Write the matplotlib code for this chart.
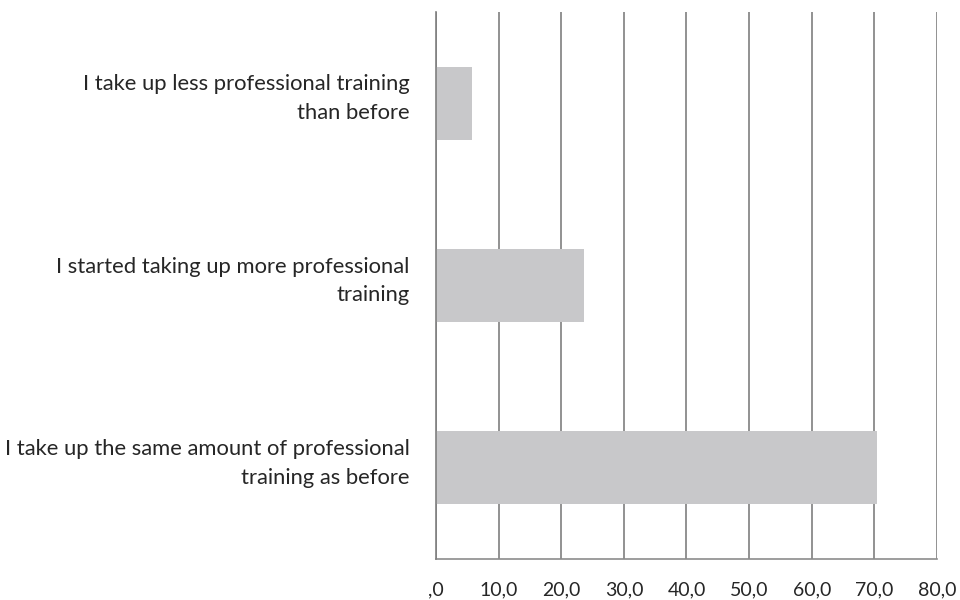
import matplotlib.pyplot as plt
from matplotlib.ticker import FuncFormatter
from matplotlib.transforms import ScaledTranslation

# Survey answers (bottom to top) and share of respondents in %
categories = [
    "I take up the same amount of professional\ntraining as before",
    "I started taking up more professional\ntraining",
    "I take up less professional training\nthan before",
]
values = [70.5, 23.7, 5.8]
x_ticks = [0, 10, 20, 30, 40, 50, 60, 70, 80]

plt.rcParams['font.family'] = ['Lato', 'DejaVu Sans']

# Comma decimal labels, zero written as ",0"
def commaFormat(v, pos):
    s = f"{v:.1f}".replace('.', ',')
    return s[1:] if s.startswith('0') else s

fig = plt.figure(figsize=(9.6, 6), dpi=100)
ax = fig.add_axes([0.4542, 0.0683, 0.976 - 0.4542, 0.98 - 0.0683])

ax.barh(range(len(values)), values, height=0.4, color="#c8c8ca", zorder=2)

ax.set_xlim(0, 80)
ax.set_ylim(-0.5, 2.5)
ax.set_xticks(x_ticks)
ax.xaxis.set_major_formatter(FuncFormatter(commaFormat))
ax.set_yticks(range(len(categories)))
ax.set_yticklabels(categories, fontsize=15.8, color="#262626", linespacing=1.55)
ax.tick_params(axis='x', length=0, pad=16, labelsize=14, labelcolor="#262626")
ax.tick_params(axis='y', length=0, pad=19)

# category labels sit a little above the bar centre
shift = ScaledTranslation(0, 0.11, fig.dpi_scale_trans)
for lbl in ax.get_yticklabels():
    lbl.set_transform(lbl.get_transform() + shift)

ax.xaxis.grid(True, color="#7f7f7f", linewidth=1.2, zorder=1)
ax.set_axisbelow(True)

for side in ["top", "right"]:
    ax.spines[side].set_visible(False)
ax.spines["left"].set_color("#7f7f7f")
ax.spines["left"].set_linewidth(1.2)
ax.spines["left"].set_zorder(3)
ax.spines["bottom"].set_color("#8c8c8c")
ax.spines["bottom"].set_linewidth(1.2)

fig.savefig("out.png", dpi=100)
